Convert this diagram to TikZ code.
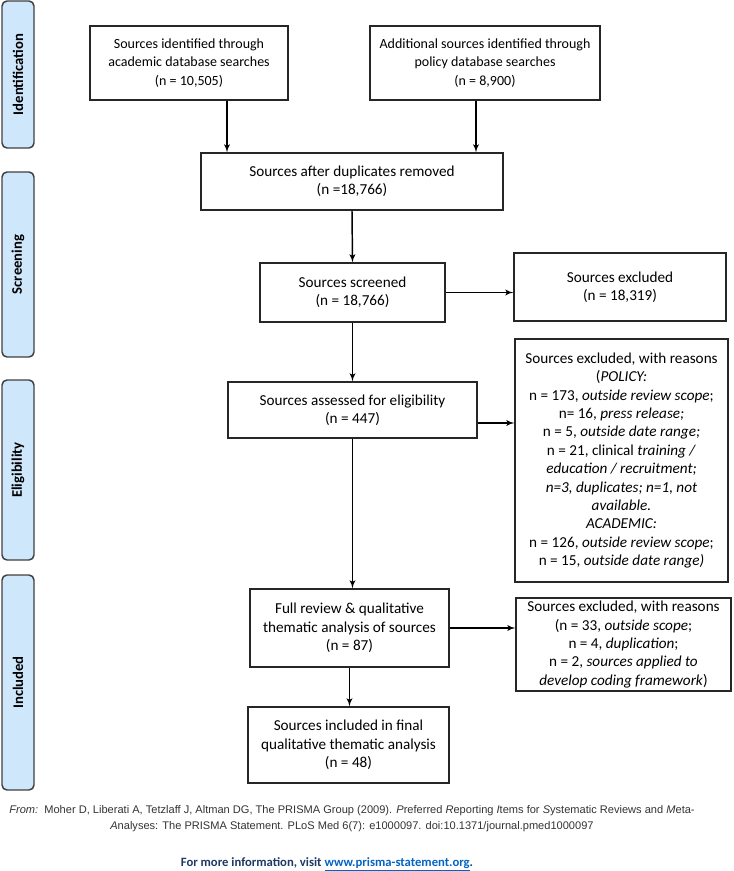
\documentclass[tikz,border=0pt]{standalone}
\usepackage{fontspec}
\setmainfont{Carlito}
\newfontfamily\arialfont{Liberation Sans}
\usetikzlibrary{arrows}
\definecolor{barblue}{RGB}{207,231,251}
\definecolor{bargray}{RGB}{64,64,64}
\definecolor{navy}{RGB}{31,56,100}
\definecolor{linkblue}{RGB}{5,99,193}
\newdimen\px \px=0.75pt

\begin{document}
\begin{tikzpicture}[->,>=latex',x=0.75pt,y=-0.75pt,line width=1.1pt,
  box/.style={draw=black!85,line width=0.9pt,align=center,inner sep=0pt,font=\fontsize{11.4}{13.8}\selectfont},
  topbox/.style={box,font=\fontsize{10.5}{13.8}\selectfont},
  bar/.style={draw=bargray,fill=barblue,rounded corners=5\px,line width=1.1pt,rotate=90,inner sep=0pt,font=\fontsize{11}{13}\selectfont\bfseries}]
\useasboundingbox (0,0) rectangle (733,871);

% phase bars
\node[bar,minimum width=147\px,minimum height=32\px] (idbar) at (18,74.5) {Identification};
\node[bar,minimum width=185\px,minimum height=32\px] (scrbar) at (18,264.5) {Screening};
\node[bar,minimum width=180\px,minimum height=32\px] (elbar) at (18,470) {Eligibility};
\node[bar,minimum width=215\px,minimum height=32\px] (inbar) at (18,682.5) {Included};

% boxes
\node[topbox,minimum width=198\px,minimum height=74\px] (acad) at (189,63)
  {Sources identified through\\academic database searches\\(n = 10,505)};
\node[topbox,minimum width=230\px,minimum height=74\px] (policy) at (485,63)
  {Additional sources identified through\\policy database searches\\(n = 8,900)};
\node[box,minimum width=302\px,minimum height=57\px] (dup) at (352,181.5)
  {Sources after duplicates removed\\(n =18,766)};
\node[box,minimum width=185\px,minimum height=59\px] (screen) at (352.5,292.5)
  {Sources screened\\(n = 18,766)};
\node[box,minimum width=212\px,minimum height=68\px] (excl) at (620,287)
  {Sources excluded\\(n = 18,319)};
\node[box,minimum width=249\px,minimum height=56\px] (elig) at (352.5,410)
  {Sources assessed for eligibility\\(n = 447)};
\node[box,minimum width=213\px,minimum height=243\px] (reasons) at (621.5,460.5)
  {Sources excluded, with reasons\\(\textit{POLICY:}\\n = 173, \textit{outside review scope};\\
   n= 16, \textit{press release;}\\n = 5, \textit{outside date range;}\\
   n = 21, clinical \textit{training /}\\\textit{education / recruitment;}\\
   \textit{n=3, duplicates; n=1, not}\\\textit{available.}\\\textit{ACADEMIC:}\\
   n = 126, \textit{outside review scope};\\n = 15, \textit{outside date range)}};
\node[box,minimum width=199\px,minimum height=78\px] (full) at (349.5,628)
  {Full review \& qualitative\\thematic analysis of sources\\(n = 87)};
\node[box,minimum width=215\px,minimum height=93\px] (excl2) at (623.5,644.5)
  {Sources excluded, with reasons\\(n = 33, \textit{outside scope};\\n = 4, \textit{duplication};\\
   n = 2, \textit{sources applied to}\\\textit{develop coding framework})};
\node[box,minimum width=201\px,minimum height=76\px] (incl) at (348.5,745)
  {Sources included in final\\qualitative thematic analysis\\(n = 48)};

% connectors
\coordinate (acadx) at (227,0);
\coordinate (polx) at (476,0);
\draw (acadx |- acad.south) -- (acadx |- dup.north);
\draw (polx |- policy.south) -- (polx |- dup.north);
\draw (dup.south) -- (screen.north);
\draw (screen.east) -- (screen.east -| excl.west);
\draw (screen.south) -- (elig.north);
\draw ([yshift=-13\px]elig.east) -- ([yshift=-13\px]elig.east -| reasons.west);
\draw (elig.south) -- (elig.south |- full.north);
\draw (full.east) -- (full.east -| excl2.west);
\draw (full.south) -- (full.south |- incl.north);

% source note
\node[font=\arialfont\fontsize{8.3}{10}\selectfont,text=black!80] (cite1) at (352,811)
  {\textit{From:}\ \ Moher D, Liberati A, Tetzlaff J, Altman DG, The PRISMA Group (2009). \textit{P}referred \textit{R}eporting \textit{I}tems for \textit{S}ystematic Reviews and \textit{M}eta-};
\node[font=\arialfont\fontsize{8.3}{10}\selectfont,text=black!80] (cite2) at (352,827)
  {\textit{A}nalyses: The PRISMA Statement. PLoS Med 6(7): e1000097. doi:10.1371/journal.pmed1000097};
\node[font=\bfseries\fontsize{9.5}{11}\selectfont,text=navy] (more) at (327,864)
  {For more information, visit \textcolor{linkblue}{\underline{www.prisma-statement.org}}.};
\end{tikzpicture}
\end{document}
